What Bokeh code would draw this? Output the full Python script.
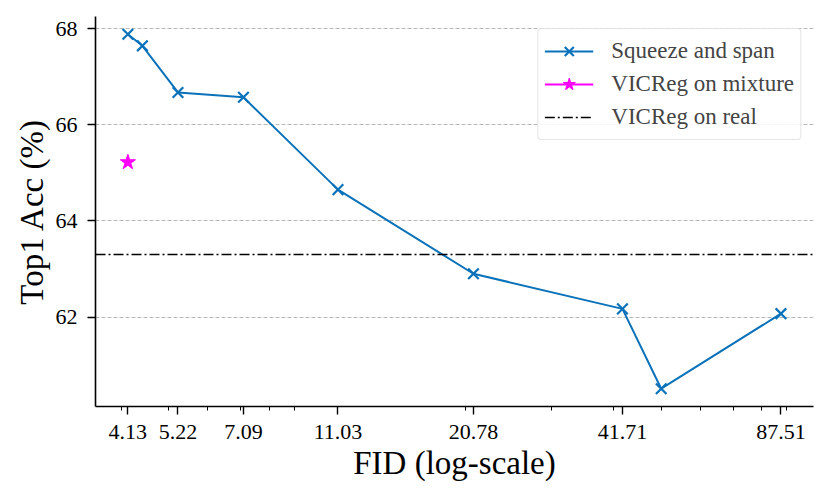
from bokeh.plotting import figure
from bokeh.models import FixedTicker, Span, Legend, LegendItem, Range1d, ColumnDataSource
from bokeh.embed import file_html
from bokeh.resources import INLINE

# ---- data ----
fid = [4.13, 4.42, 5.22, 7.09, 11.03, 20.78, 41.71, 50.0, 87.51]
acc = [67.88, 67.64, 66.67, 66.57, 64.65, 62.90, 62.17, 60.51, 62.07]
mix_fid = [4.13]
mix_acc = [65.22]
real_acc = 63.30
x_ticks = [4.13, 5.22, 7.09, 11.03, 20.78, 41.71, 87.51]
x_tick_labels = ["4.13", "5.22", "7.09", "11.03", "20.78", "41.71", "87.51"]
x_minor = [4, 5, 6, 7, 8, 9, 20, 30, 40, 50, 60, 70, 80, 90]
y_ticks = [62, 64, 66, 68]

FONT = "Liberation Serif"
BLUE = "#0b72ba"

p = figure(
    x_axis_type="log",
    frame_width=718, frame_height=390,
    output_backend="svg", toolbar_location=None,
    x_range=Range1d(3.55, 101.9), y_range=Range1d(60.14, 68.25),
    min_border_left=95, min_border_right=16, min_border_top=16, min_border_bottom=92,
    background_fill_color="white", border_fill_color="white",
)
p.outline_line_color = None

# grid
p.xgrid.grid_line_color = None
p.ygrid.grid_line_color = "#b8b8b8"
p.ygrid.grid_line_dash = "4 2"
p.ygrid.grid_line_width = 1

# axes
xa = p.xaxis[0]
xa.ticker = FixedTicker(ticks=x_ticks, minor_ticks=x_minor)
xa.major_label_overrides = {t: l for t, l in zip(x_ticks, x_tick_labels)}
ya = p.yaxis[0]
ya.ticker = FixedTicker(ticks=y_ticks)
for ax in (xa, ya):
    ax.axis_line_color = "black"
    ax.axis_line_width = 1.6
    ax.major_tick_line_color = "black"
    ax.major_tick_line_width = 1.4
    ax.major_tick_out = 8
    ax.major_tick_in = 0
    ax.minor_tick_line_color = "black"
    ax.minor_tick_line_width = 1
    ax.minor_tick_out = 4
    ax.minor_tick_in = 0
    ax.major_label_text_font = FONT
    ax.major_label_text_font_size = "22px"
    ax.major_label_text_color = "black"
    ax.axis_label_text_font = FONT
    ax.axis_label_text_font_size = "33px"
    ax.axis_label_text_font_style = "normal"
    ax.axis_label_text_color = "black"
ya.minor_tick_line_color = None
xa.major_label_standoff = 10
ya.major_label_standoff = 10
xa.axis_label = "FID (log-scale)"
ya.axis_label = "Top1 Acc (%)"
xa.axis_label_standoff = 3
ya.axis_label_standoff = 3

# horizontal reference
span = Span(location=real_acc, dimension="width", line_color="black",
            line_width=1.5, line_dash="10 3 2 3")
p.add_layout(span)
real_dummy = p.line(x=[x_ticks[0]], y=[real_acc], line_color="black",
                    line_width=1.5, line_dash="10 3 2 3")

# main series
src = ColumnDataSource(dict(x=fid, y=acc))
l1 = p.line("x", "y", source=src, line_color=BLUE, line_width=2)
m1 = p.scatter("x", "y", source=src, marker="x", size=15, line_color=BLUE, line_width=2.2)

# mixture
l2 = p.line(x=mix_fid, y=mix_acc, line_color="#ff00ff", line_width=2)
m2 = p.scatter(x=mix_fid, y=mix_acc, marker="star", size=16, fill_color="#ff00ff",
               line_color="#ff00ff")

legend = Legend(items=[
    LegendItem(label="Squeeze and span", renderers=[l1, m1]),
    LegendItem(label="VICReg on mixture", renderers=[l2, m2]),
    LegendItem(label="VICReg on real", renderers=[real_dummy]),
], location="top_right")
legend.margin = 12
legend.padding = 6
legend.spacing = 1
legend.glyph_width = 49
legend.glyph_height = 32
legend.label_height = 32
legend.label_standoff = 18
legend.label_text_font = FONT
legend.label_text_font_size = "23px"
legend.border_line_color = "#cccccc"
legend.border_line_width = 1
legend.border_radius = 4
legend.background_fill_alpha = 0.85
p.add_layout(legend)

open("out.html", "w").write(file_html(p, INLINE))
